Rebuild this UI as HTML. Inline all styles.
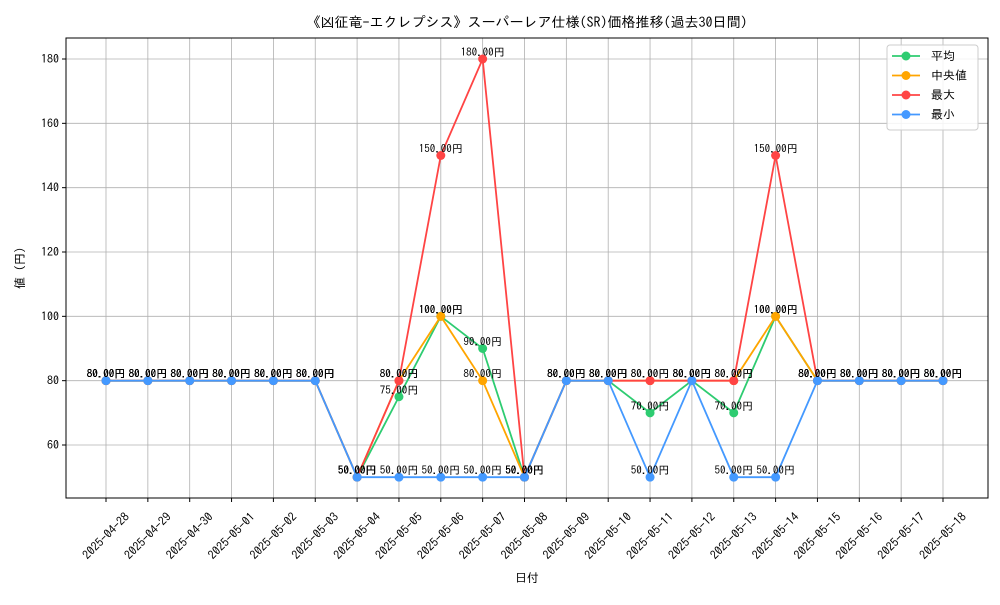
<!DOCTYPE html>
<html><head><meta charset="utf-8"><style>
body{margin:0;background:#fff;}
svg text{font-family:"IPAGothic","Liberation Sans","Noto Sans CJK JP",sans-serif;}
</style></head><body>
<svg id="c" width="1000" height="600" xmlns="http://www.w3.org/2000/svg">
<rect width="1000" height="600" fill="#fff"/>
<g id="grid"></g>
<g id="series"></g>
<g id="labels"></g>
<rect x="66" y="38" width="922" height="460" fill="none" stroke="#000" stroke-width="1"/>
<g id="axes"></g>
<text x="527" y="27" text-anchor="middle" font-size="14">《凶征竜-エクレプシス》スーパーレア仕様(SR)価格推移(過去30日間)</text>
<text x="527" y="582" text-anchor="middle" font-size="12">日付</text>
<text x="24" y="268" text-anchor="middle" font-size="12" transform="rotate(-90 24 268)">値 (円)</text>
<g>
<rect x="887" y="45" width="91" height="85" rx="3" fill="#fff" fill-opacity="0.85" stroke="#ccc"/>
<g id="legend"></g>
</g>
</svg>
<script>
const dates=["2025-04-28","2025-04-29","2025-04-30","2025-05-01","2025-05-02","2025-05-03","2025-05-04","2025-05-05","2025-05-06","2025-05-07","2025-05-08","2025-05-09","2025-05-10","2025-05-11","2025-05-12","2025-05-13","2025-05-14","2025-05-15","2025-05-16","2025-05-17","2025-05-18"];
const avgVals=[80,80,80,80,80,80,50,75,100,90,50,80,80,70,80,70,100,80,80,80,80];
const medVals=[80,80,80,80,80,80,50,80,100,80,50,80,80,80,80,80,100,80,80,80,80];
const maxVals=[80,80,80,80,80,80,50,80,150,180,50,80,80,80,80,80,150,80,80,80,80];
const minVals=[80,80,80,80,80,80,50,50,50,50,50,80,80,50,80,50,50,80,80,80,80];
const yTicks=[60,80,100,120,140,160,180];
const seriesNames=["平均","中央値","最大","最小"];
const colors=["#2ecc71","#ffa500","#ff4444","#4499ff"];
const NS="http://www.w3.org/2000/svg";
const xs=i=>106+i*(943-106)/20;
const ys=v=>445-(v-60)*(445-59)/120;
function mk(t,a,p){const e=document.createElementNS(NS,t);for(const k in a)e.setAttribute(k,a[k]);p.appendChild(e);return e;}
const grid=document.getElementById('grid'),axes=document.getElementById('axes'),ser=document.getElementById('series'),lab=document.getElementById('labels'),leg=document.getElementById('legend');
dates.forEach((d,i)=>{const x=xs(i);
const g=mk('line',{x1:x,x2:x,y1:38,y2:498,stroke:'#b0b0b0','stroke-width':0.8},grid);

mk('line',{x1:x,x2:x,y1:498,y2:502,stroke:'#000'},axes);
const cy=536;
const t=mk('text',{x:x,y:cy,'font-size':12,'text-anchor':'middle','dominant-baseline':'central',transform:`rotate(-45 ${x} ${cy})`},axes);
t.textContent=d;});
yTicks.forEach(v=>{const y=ys(v);
const g=mk('line',{x1:66,x2:988,y1:y,y2:y,stroke:'#b0b0b0','stroke-width':0.8},grid);

mk('line',{x1:62,x2:66,y1:y,y2:y,stroke:'#000'},axes);
const t=mk('text',{x:59,y:y+4,'font-size':12,'text-anchor':'end'},axes);
t.textContent=v;});
[avgVals,medVals,maxVals,minVals].forEach((vals,s)=>{
const pts=vals.map((v,i)=>xs(i)+','+ys(v)).join(' ');
const l=mk('polyline',{points:pts,fill:'none',stroke:colors[s],'stroke-width':1.8},ser);

vals.forEach((v,i)=>{const c=mk('circle',{cx:xs(i),cy:ys(v),r:4.5,fill:colors[s]},ser);

const t=mk('text',{x:xs(i),y:ys(v)-3,'font-size':11,'text-anchor':'middle'},lab);
t.textContent=v.toFixed(2)+'円';});
const ly=56+s*19.5;
mk('line',{x1:892,x2:920,y1:ly,y2:ly,stroke:colors[s],'stroke-width':1.8},leg);
const lc=mk('circle',{cx:906,cy:ly,r:4.5,fill:colors[s]},leg);

const lt=mk('text',{x:931,y:ly+4,'font-size':12},leg);
lt.textContent=(s==1?' ':'')+seriesNames[s];});
</script>
</body></html>
